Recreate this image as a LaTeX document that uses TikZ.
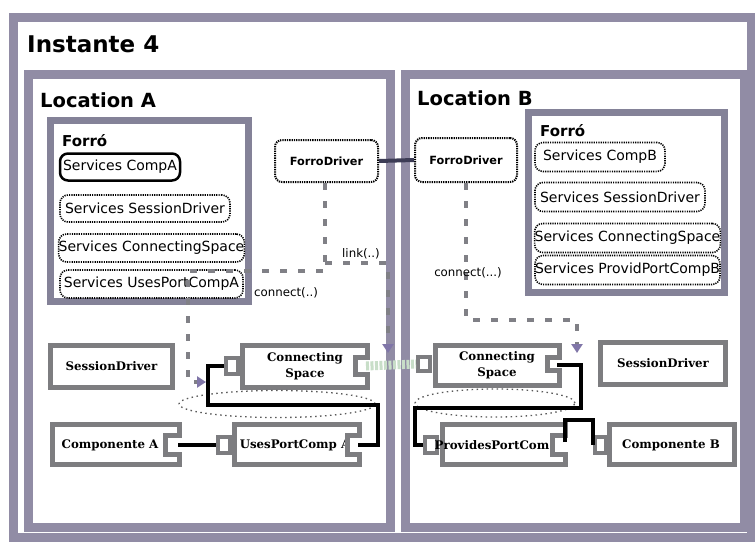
\documentclass[tikz,border=0pt]{standalone}
\usepackage{fontspec}
\setmainfont{DejaVu Sans}
\newfontfamily\compfont{DejaVu Serif}
\usetikzlibrary{arrows.meta,shapes.geometric}
\definecolor{framec}{RGB}{145,140,165}
\definecolor{forroc}{RGB}{132,130,152}
\definecolor{boxgray}{RGB}{125,125,128}
\definecolor{dashgray}{RGB}{128,128,134}
\definecolor{tipc}{RGB}{128,118,168}
\definecolor{linkc}{RGB}{200,222,200}
\definecolor{busc}{RGB}{60,60,85}
\tikzset{
  frame/.style={draw=framec, line width=9pt, inner sep=0pt, outer sep=0pt},
  forrobox/.style={draw=forroc, line width=7pt, inner sep=0pt, outer sep=0pt},
  svc/.style={draw=black, line width=1.6pt, dash pattern=on 1.2pt off 1.1pt, rounded corners=8pt,
    inner sep=0pt, minimum height=27pt, font=\fontsize{14}{16}\selectfont},
  svcsolid/.style={svc, solid, line width=2.5pt},
  driver/.style={draw=black, line width=2pt, dash pattern=on 1.3pt off 1pt, rounded corners=7pt,
    inner sep=0pt, font=\bfseries\fontsize{11.3}{13}\selectfont},
  comp/.style={draw=boxgray, line width=5pt, fill=white, line join=miter},
  plain/.style={draw=boxgray, line width=5pt, fill=white, inner sep=0pt},
  plug/.style={draw=boxgray, line width=4pt, fill=white, inner sep=0pt},
  ctext/.style={font=\compfont\bfseries\fontsize{11.8}{16}\selectfont, align=center, inner sep=0pt},
  wire/.style={draw=black, line width=4pt},
  dconn/.style={draw=dashgray, line width=3.5pt, dash pattern=on 7pt off 11pt},
  tip/.style={-{Triangle[length=9pt,width=11pt,color=tipc]}},
  lbl/.style={font=\fontsize{11.8}{13}\selectfont, inner sep=0pt},
  title/.style={font=\bfseries\fontsize{#1}{#1}\selectfont, inner sep=0pt, anchor=west},
  ell/.style={draw=black!65, line width=1.3pt, dash pattern=on 1.5pt off 3.5pt},
  greenlink/.style={draw=linkc, line width=9pt, dash pattern=on 3pt off 1.5pt}
}
\begin{document}
\begin{tikzpicture}[x=1pt,y=-1pt]
\useasboundingbox (0,0) rectangle (755,541);
\fill[white] (0,0) rectangle (755,541);

% frames
\node[frame, minimum width=738pt, minimum height=520pt] (outer) at (382,277) {};
\node[title=23] (inst) at (27,44) {Instante 4};
\node[frame, minimum width=362pt, minimum height=453pt] (locA) at (209,300.5) {};
\node[frame, minimum width=339pt, minimum height=453pt] (locB) at (574.5,300.5) {};
\node[title=19.5] (locAt) at (40,100) {Location A};
\node[title=19.5] (locBt) at (417,98) {Location B};

% Forro boxes
\node[forrobox, minimum width=198pt, minimum height=181pt] (forroA) at (149.5,211) {};
\node[forrobox, minimum width=196pt, minimum height=180pt] (forroB) at (626.5,202.5) {};
\node[title=15] (forroAt) at (62,141) {Forró};
\node[title=15] (forroBt) at (540,131) {Forró};

% services A
\node[svcsolid, minimum width=120pt] (sA1) at (120,167) {Services CompA};
\node[svc, minimum width=170pt] (sA2) at (145,208.5) {Services SessionDriver};
\node[svc, minimum width=183pt, minimum height=28pt] (sA3) at (151.5,248) {Services ConnectingSpace};
\node[svc, minimum width=183pt, minimum height=28pt] (sA4) at (151.5,284) {Services UsesPortCompA};

% services B
\node[svc, minimum width=130pt, minimum height=29pt] (sB1) at (600,157) {Services CompB};
\node[svc, minimum width=170pt, minimum height=29pt] (sB2) at (620,197) {Services SessionDriver};
\node[svc, minimum width=185pt, minimum height=29pt] (sB3) at (627.5,238) {Services ConnectingSpace};
\node[svc, minimum width=185pt, minimum height=29pt] (sB4) at (627.5,270) {Services ProvidPortCompB};

% Forro drivers
\node[driver, minimum width=103pt, minimum height=42pt] (fdA) at (326.5,161) {ForroDriver};
\node[driver, minimum width=102pt, minimum height=44pt] (fdB) at (466,160) {ForroDriver};
\draw[draw=busc, line width=4pt] (fdA.east) -- (fdB.west);

% session drivers
\node[plain, minimum width=122pt, minimum height=42pt, ctext] (sdA) at (111.5,366.5) {SessionDriver};
\node[plain, minimum width=125pt, minimum height=42pt, ctext] (sdB) at (663,363.5) {SessionDriver};

% Connecting Space A
\draw[comp] (242.5,345.5) -- (367.5,345.5) -- (367.5,357.5) -- (355.5,357.5) -- (355.5,374.5) -- (367.5,374.5) -- (367.5,387.5) -- (242.5,387.5) -- cycle;
\node[plug, minimum width=12pt, minimum height=16pt] (csAplug) at (232,366) {};
\node[ctext] (csAt) at (305,366) {Connecting\\Space};
\coordinate (csAsock) at (366,366);

% Connecting Space B
\draw[comp] (435.5,345.5) -- (559.5,345.5) -- (559.5,357.5) -- (547.5,357.5) -- (547.5,370.5) -- (559.5,370.5) -- (559.5,385.5) -- (435.5,385.5) -- cycle;
\node[plug, minimum width=12pt, minimum height=14pt] (csBplug) at (424,364) {};
\node[ctext] (csBt) at (497,365) {Connecting\\Space};
\coordinate (csBsock) at (557,365);

% Componente A
\draw[comp] (52.5,424.5) -- (179.5,424.5) -- (179.5,435.5) -- (165.5,435.5) -- (165.5,454.5) -- (179.5,454.5) -- (179.5,464.5) -- (52.5,464.5) -- cycle;
\node[ctext] (compA) at (110,445) {Componente A};
\coordinate (compAsock) at (178,445);

% UsesPortComp A
\draw[comp] (234.5,424.5) -- (359.5,424.5) -- (359.5,435.5) -- (347.5,435.5) -- (347.5,454.5) -- (359.5,454.5) -- (359.5,464.5) -- (234.5,464.5) -- cycle;
\node[plug, minimum width=12pt, minimum height=16pt] (usesPlug) at (223.5,445) {};
\node[ctext] (usesT) at (295,445) {UsesPortComp A};
\filldraw[fill=white, draw=boxgray, line width=5pt] (362,435.5) -- (347.5,435.5) -- (347.5,454.5) -- (362,454.5);
\coordinate (usesSock) at (358,445);

% ProvidesPortCom
\draw[comp] (442.5,424.5) -- (565.5,424.5) -- (565.5,435.5) -- (552.5,435.5) -- (552.5,454.5) -- (565.5,454.5) -- (565.5,464.5) -- (442.5,464.5) -- cycle;
\node[plug, minimum width=12pt, minimum height=16pt] (provPlug) at (431,445) {};
\node[ctext] (provT) at (492,445) {ProvidesPortCom};
\coordinate (provSock) at (565,442);

% Componente B
\draw[comp] (609.5,424.5) -- (734.5,424.5) -- (734.5,464.5) -- (609.5,464.5) -- cycle;
\node[plug, minimum width=11pt, minimum height=16pt] (compBplug) at (600,445) {};
\node[ctext] (compB) at (671,445) {Componente B};

% dotted ellipses
\node[ell, ellipse, minimum width=196pt, minimum height=27pt, inner sep=0pt] (ellA) at (277,404) {};
\node[ell, ellipse, minimum width=160pt, minimum height=28pt, inner sep=0pt] (ellB) at (495,403) {};

% solid wires
\draw[wire] (compAsock) -- (usesPlug.west);
\draw[wire] (usesSock) -- (378,445) -- (378,405) -- (208,405) -- (208,366) -- (csAplug.west);
\draw[wire] (csBsock) -- (581,365) -- (581,408) -- (415,408) -- (415,445) -- (provPlug.west);
\draw[wire] (provSock) -- (565,420) -| (compBplug.west);

% link between connecting spaces
\draw[greenlink] (csAsock) -- (csBplug.west);

% dashed control connectors
\coordinate (bendA1) at (325,271);
\coordinate (bendA2) at (188,271);
\coordinate (linkS) at (325,263);
\draw[dconn, tip] (fdA.south -| bendA1) -- (bendA1) -- (bendA2) -- (188,382) -- (206,382);
\draw[dconn, tip] (linkS) -- (388,263) -- (388,353);
\draw[dconn, tip] (fdB.south) -- (466,320) -- (577,320) -- (577,353);

\node[lbl] (linkL) at (361,254) {link(..)};
\node[lbl] (connA) at (286,293) {connect(..)};
\node[lbl] (connB) at (468,273) {connect(...)};
\end{tikzpicture}
\end{document}
